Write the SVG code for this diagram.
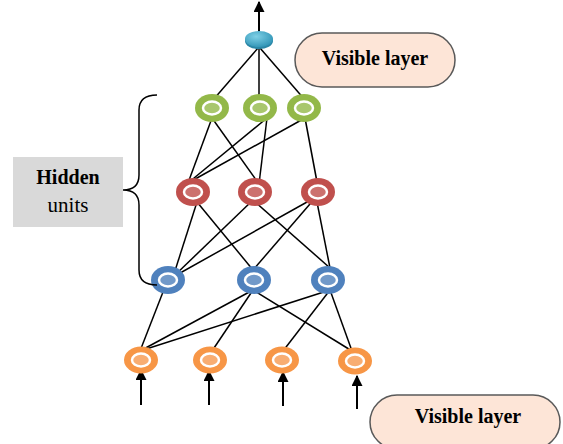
<svg xmlns="http://www.w3.org/2000/svg" width="563" height="444" viewBox="0 0 563 444">
<defs>
<marker id="ah" viewBox="0 0 10 10" refX="9" refY="5" markerWidth="5.5" markerHeight="5.5" orient="auto" markerUnits="strokeWidth">
<path d="M0,0 L10,5 L0,10 z" fill="#000"/>
</marker>
<radialGradient id="tealg" cx="0.4" cy="0.35" r="0.7">
<stop offset="0" stop-color="#7fd0e6"/>
<stop offset="1" stop-color="#2e93b5"/>
</radialGradient>
</defs>
<style>
.e{stroke:#000;stroke-width:1.5;fill:none}
.ar{stroke:#000;stroke-width:2;fill:none;marker-end:url(#ah)}
.ring{stroke:#fff;stroke-width:2.5}
.g .o{fill:#93b849}.g .i{fill:#a9c76d}
.r .o{fill:#c0504d}.r .i{fill:#cc716e}
.b .o{fill:#4f81bd}.b .i{fill:#7199c9}
.or .o{fill:#f79646}.or .i{fill:#f8ad72}
.t{font-family:"Liberation Serif",serif;fill:#000}
.pill{fill:#fde5d7;stroke:#595959;stroke-width:1.5}
</style>
<rect width="563" height="444" fill="#fff"/>
<g id="connectors">
<line class="ar" x1="259" y1="32" x2="259" y2="2"/>
<line class="e" x1="258" y1="48" x2="213" y2="100"/>
<line class="e" x1="259" y1="48" x2="259" y2="100"/>
<line class="e" x1="260" y1="48" x2="305" y2="100"/>
<line class="e" x1="212" y1="118" x2="188" y2="183"/>
<line class="e" x1="212" y1="118" x2="259" y2="184"/>
<line class="e" x1="267" y1="118" x2="188" y2="183"/>
<line class="e" x1="267" y1="118" x2="259" y2="184"/>
<line class="e" x1="305" y1="118" x2="188" y2="183"/>
<line class="e" x1="305" y1="118" x2="317" y2="182"/>
<line class="e" x1="197" y1="202" x2="173" y2="277"/>
<line class="e" x1="197" y1="202" x2="253" y2="270"/>
<line class="e" x1="253" y1="200" x2="173" y2="277"/>
<line class="e" x1="253" y1="200" x2="330" y2="268"/>
<line class="e" x1="316" y1="197" x2="173" y2="277"/>
<line class="e" x1="316" y1="197" x2="253" y2="270"/>
<line class="e" x1="316" y1="197" x2="330" y2="268"/>
<line class="e" x1="163" y1="292" x2="140" y2="351"/>
<line class="e" x1="253" y1="290" x2="140" y2="351"/>
<line class="e" x1="253" y1="290" x2="212" y2="351"/>
<line class="e" x1="253" y1="290" x2="352" y2="351"/>
<line class="e" x1="330" y1="290" x2="140" y2="351"/>
<line class="e" x1="330" y1="290" x2="283" y2="351"/>
<line class="e" x1="330" y1="290" x2="352" y2="351"/>
<line class="ar" x1="141" y1="405" x2="141" y2="370"/>
<line class="ar" x1="209" y1="405" x2="209" y2="371"/>
<line class="ar" x1="283" y1="406" x2="283" y2="372"/>
<line class="ar" x1="357" y1="409" x2="357" y2="376"/>
</g>
<g id="top-node">
<ellipse cx="259" cy="41" rx="14" ry="8" fill="#2a86a6"/>
<ellipse cx="259" cy="39" rx="14" ry="8" fill="url(#tealg)"/>
</g>
<g id="green-1" class="g"><ellipse class="o" cx="212" cy="108" rx="17" ry="14"/><ellipse class="i ring" cx="212" cy="108" rx="9" ry="6.5"/></g>
<g id="green-2" class="g"><ellipse class="o" cx="260" cy="108" rx="17" ry="14"/><ellipse class="i ring" cx="260" cy="108" rx="9" ry="6.5"/></g>
<g id="green-3" class="g"><ellipse class="o" cx="304" cy="108" rx="17" ry="14"/><ellipse class="i ring" cx="304" cy="108" rx="9" ry="6.5"/></g>
<g id="red-1" class="r"><ellipse class="o" cx="193" cy="192" rx="17" ry="14"/><ellipse class="i ring" cx="193" cy="192" rx="9" ry="6.5"/></g>
<g id="red-2" class="r"><ellipse class="o" cx="255" cy="192" rx="17" ry="14"/><ellipse class="i ring" cx="255" cy="192" rx="9" ry="6.5"/></g>
<g id="red-3" class="r"><ellipse class="o" cx="318" cy="192" rx="17" ry="14"/><ellipse class="i ring" cx="318" cy="192" rx="9" ry="6.5"/></g>
<g id="blue-1" class="b"><ellipse class="o" cx="168" cy="280" rx="17" ry="14"/><ellipse class="i ring" cx="168" cy="280" rx="9" ry="6.5"/></g>
<g id="blue-2" class="b"><ellipse class="o" cx="254" cy="280" rx="17" ry="14"/><ellipse class="i ring" cx="254" cy="280" rx="9" ry="6.5"/></g>
<g id="blue-3" class="b"><ellipse class="o" cx="328" cy="280" rx="17" ry="14"/><ellipse class="i ring" cx="328" cy="280" rx="9" ry="6.5"/></g>
<g id="orange-1" class="or"><ellipse class="o" cx="141" cy="360" rx="17" ry="13.5"/><ellipse class="i ring" cx="141" cy="360" rx="9" ry="6.5"/></g>
<g id="orange-2" class="or"><ellipse class="o" cx="210" cy="360" rx="17" ry="13.5"/><ellipse class="i ring" cx="210" cy="360" rx="9" ry="6.5"/></g>
<g id="orange-3" class="or"><ellipse class="o" cx="282" cy="360" rx="17" ry="13.5"/><ellipse class="i ring" cx="282" cy="360" rx="9" ry="6.5"/></g>
<g id="orange-4" class="or"><ellipse class="o" cx="355" cy="361" rx="17" ry="13.5"/><ellipse class="i ring" cx="355" cy="361" rx="9" ry="6.5"/></g>
<g id="brace">
<path d="M157,95 Q139,95 139,110 L139,175 Q139,190 123,190 Q139,190 139,205 L139,270 Q139,285 157,285" fill="none" stroke="#000" stroke-width="1.5"/>
</g>
<g id="hidden-units">
<rect x="13" y="157" width="110" height="70" fill="#d9d9d9"/>
<text class="t" x="68" y="184" font-size="20" font-weight="bold" text-anchor="middle">Hidden</text>
<text class="t" x="68" y="212" font-size="21" text-anchor="middle">units</text>
</g>
<g id="visible-top">
<rect class="pill" x="295" y="33" width="160" height="54" rx="27"/>
<text class="t" x="375" y="65" font-size="20" font-weight="bold" text-anchor="middle">Visible layer</text>
</g>
<g id="visible-bottom">
<rect class="pill" x="370" y="395" width="190" height="54" rx="27"/>
<text class="t" x="468" y="423" font-size="20" font-weight="bold" text-anchor="middle">Visible layer</text>
</g>
</svg>
